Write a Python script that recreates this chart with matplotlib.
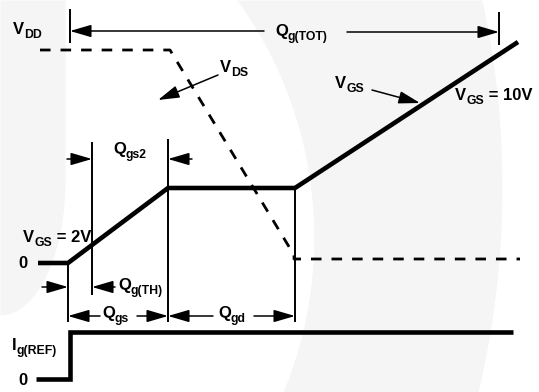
import numpy as np
import matplotlib.pyplot as plt

plt.rcParams["font.family"] = "Liberation Sans"

# gate-source voltage: flat at zero, rise to plateau, Miller plateau, rise to 10 V
q_vgs = [38, 68, 168, 295, 518]
v_vgs = [263, 263, 188, 188, 42]

# drain-source voltage: V_DD, falling during Q_gd, then on-state level
q_vds = [40, 170, 294, 294, 520]
v_vds = [50, 50, 255, 259, 259]

# gate reference current step
q_ig = [36, 70, 70, 513]
i_ig = [379, 379, 332, 332]

# charge marker lines (x, y_top, y_bottom)
marks_x = [68, 92, 168, 295, 70, 499]
marks_top = [263, 142, 139, 187, 9, 12]
marks_bot = [322, 295, 322, 322, 43, 45]

# dimension arrows (tail -> head)
arrows = [
    ((264, 31), (70, 31)),
    ((347, 32), (499, 32)),
    ((218, 75), (158, 100)),
    ((372, 90), (420, 103)),
    ((67, 159), (92, 159)),
    ((192, 159), (168, 159)),
    ((42, 287), (68, 287)),
    ((115, 287), (92, 287)),
    ((100, 316), (68, 316)),
    ((137, 316), (168, 316)),
    ((213, 316), (168, 316)),
    ((254, 316), (295, 316)),
]

# (x, baseline, symbol, subscript, trailing text)
labels = [
    (13, 34, "V", "DD", ""),
    (275, 36, "Q", "g(TOT)", ""),
    (220, 72, "V", "DS", ""),
    (335, 88, "V", "GS", ""),
    (455, 100, "V", "GS", " = 10V"),
    (113, 154, "Q", "gs2", ""),
    (23, 242, "V", "GS", " = 2V"),
    (18, 268, "0", "", ""),
    (118, 290, "Q", "g(TH)", ""),
    (102, 318, "Q", "gs", ""),
    (218, 318, "Q", "gd", ""),
    (12, 350, "I", "g(REF)", ""),
    (18, 385, "0", "", ""),
]

fig = plt.figure(figsize=(5.39, 3.92), dpi=100)
ax = fig.add_axes([0, 0, 1, 1])
ax.set_xlim(0, 539)
ax.set_ylim(392, 0)
ax.axis("off")

# faint background shapes
shade = "#f5f5f5"
y = np.linspace(0, 392, 400)
x_left = -90.8 + np.sqrt(404.6**2 - (y - 237.2) ** 2)
x_right = -382.5 + np.sqrt(884.5**2 - (y - 187.2) ** 2)
ax.fill_betweenx(y, x_left, x_right, color=shade, lw=0, zorder=0)
yb = np.linspace(0, 315, 300)
xb = np.where(yb < 180, 65, 65 * np.sqrt(np.clip(1 - ((yb - 180) / 135) ** 2, 0, 1)))
ax.fill_betweenx(yb, 0, xb, color=shade, lw=0, zorder=0)

# waveforms
ax.plot(q_vgs, v_vgs, color="black", lw=3.3, solid_joinstyle="miter",
        solid_capstyle="butt", zorder=3)
ax.plot(q_vds, v_vds, color="black", lw=2.0, linestyle=(0, (3.8, 3.6)), zorder=2)
ax.plot(q_ig, i_ig, color="black", lw=3.3, solid_joinstyle="miter",
        solid_capstyle="butt", zorder=3)

# charge boundaries
ax.vlines(marks_x, marks_top, marks_bot, color="black", lw=1.4, zorder=2)

for tail, head in arrows:
    ax.annotate("", xy=head, xytext=tail,
                arrowprops=dict(arrowstyle="-|>,head_length=1.3,head_width=0.38",
                                mutation_scale=10, color="black", lw=1.1,
                                shrinkA=0, shrinkB=0))

# labels: symbol, then a smaller dropped subscript, then any trailing text
renderer = fig.canvas.get_renderer()
for x, yy, main, sub, rest in labels:
    t = ax.text(x, yy, main, fontsize=12, fontweight="bold", ha="left", va="baseline")
    x += t.get_window_extent(renderer).width
    if sub:
        t = ax.text(x, yy + 4, sub, fontsize=8.8, fontweight="bold",
                    ha="left", va="baseline")
        x += t.get_window_extent(renderer).width
    if rest:
        ax.text(x, yy, rest, fontsize=12, fontweight="bold", ha="left", va="baseline")

fig.savefig("out.png", dpi=100)
